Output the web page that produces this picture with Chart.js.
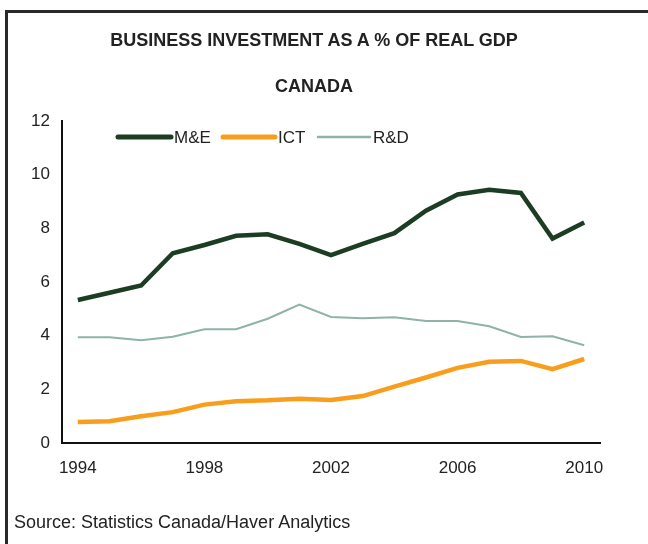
<!DOCTYPE html>
<html>
<head>
<meta charset="utf-8">
<script src="https://cdn.jsdelivr.net/npm/chart.js@4.4.1/dist/chart.umd.min.js"></script>
<style>
  html, body { margin:0; padding:0; background:#fff; }
  .wrap { position:relative; width:648px; height:544px; overflow:hidden; font-family:"Liberation Sans", Arial, sans-serif; color:#222; }
  /* cadre */
  .frame-top { position:absolute; left:5px; top:10px; width:643px; height:3px; background:#2a2a2a; }
  .frame-left { position:absolute; left:5px; top:10px; width:3px; height:534px; background:#2a2a2a; }
  .ttl { position:absolute; left:0; width:628px; text-align:center; font-weight:bold; font-size:18px; line-height:20px; }
  .src { position:absolute; left:14px; top:512px; font-size:18px; line-height:20px; }
  canvas { position:absolute; left:0; top:0; }
</style>
</head>
<body>
<div class="wrap">
  <canvas id="chart" width="648" height="544"></canvas>
  <div class="frame-top"></div>
  <div class="frame-left"></div>
  <div class="ttl" style="top:30px">BUSINESS INVESTMENT AS A % OF REAL GDP</div>
  <div class="ttl" style="top:76px">CANADA</div>
  <div class="src">Source: Statistics Canada/Haver Analytics</div>
</div>
<script>
// séries annuelles (% du PIB réel)
const years = ['1994','1995','1996','1997','1998','1999','2000','2001','2002',
               '2003','2004','2005','2006','2007','2008','2009','2010'];
const machEquip = [5.33, 5.6, 5.87, 7.07, 7.38, 7.72, 7.78, 7.42, 7.0,
                   7.42, 7.82, 8.66, 9.26, 9.44, 9.32, 7.62, 8.22];
const ict = [0.78, 0.81, 1.0, 1.15, 1.43, 1.56, 1.59, 1.65, 1.6,
             1.75, 2.1, 2.44, 2.8, 3.03, 3.06, 2.75, 3.13];
const rnd = [3.94, 3.94, 3.83, 3.96, 4.24, 4.24, 4.63, 5.16, 4.7,
             4.65, 4.69, 4.55, 4.55, 4.35, 3.95, 3.98, 3.64];
const yTicks = [0, 2, 4, 6, 8, 10, 12];
const shownYears = ['1994','1998','2002','2006','2010'];

const FONT = '"Liberation Sans", Arial, sans-serif';

// légende dessinée dans la zone du graphique, en haut à gauche
const insideLegend = {
  id: 'insideLegend',
  afterDraw(chart){
    const ctx = chart.ctx;
    const items = [
      { x:118, w:53 }, { x:223, w:52 }, { x:318, w:52 }
    ];
    const y = 137;
    ctx.save();
    ctx.font = '17px ' + FONT;
    ctx.textBaseline = 'middle';
    ctx.lineCap = 'round';
    chart.data.datasets.forEach((ds, i) => {
      const it = items[i];
      ctx.strokeStyle = ds.borderColor;
      ctx.lineWidth = ds.legendWidth;
      ctx.beginPath();
      ctx.moveTo(it.x, y);
      ctx.lineTo(it.x + it.w, y);
      ctx.stroke();
      ctx.fillStyle = '#222';
      ctx.fillText(ds.label, it.x + it.w + 3, y + 1);
    });
    ctx.restore();
  }
};

new Chart(document.getElementById('chart'), {
  type: 'line',
  data: {
    labels: years,
    datasets: [
      { label:'M&E', data: machEquip, borderColor:'#1c3d24', borderWidth:4.5, legendWidth:5, pointRadius:0, tension:0 },
      { label:'ICT', data: ict, borderColor:'#f89e1c', borderWidth:4.5, legendWidth:5, pointRadius:0, tension:0 },
      { label:'R&D', data: rnd, borderColor:'#8db4a6', borderWidth:2, legendWidth:2.5, pointRadius:0, tension:0 }
    ]
  },
  options: {
    responsive: false,
    animation: false,
    layout: { padding: { left:0, right:48, top:121, bottom:61 } },
    plugins: { legend: { display:false }, tooltip: { enabled:false } },
    scales: {
      x: {
        offset: true,
        grid: { display:false, drawTicks:false },
        border: { color:'#111', width:2 },
        afterFit: s => { s.height = 40; },
        ticks: {
          autoSkip: false, maxRotation: 0, padding: 15,
          color: '#222', font: { family: FONT, size: 17 },
          callback: function(v){ const l = this.getLabelForValue(v); return shownYears.includes(l) ? l : ''; }
        }
      },
      y: {
        min: 0, max: 12,
        grid: { display:false, drawTicks:false },
        border: { color:'#111', width:2 },
        afterFit: s => { s.width = 62; },
        afterBuildTicks: s => { s.ticks = yTicks.map(v => ({ value: v })); },
        ticks: { padding: 12, color: '#222', font: { family: FONT, size: 17 } }
      }
    }
  },
  plugins: [insideLegend]
});
</script>
</body>
</html>
